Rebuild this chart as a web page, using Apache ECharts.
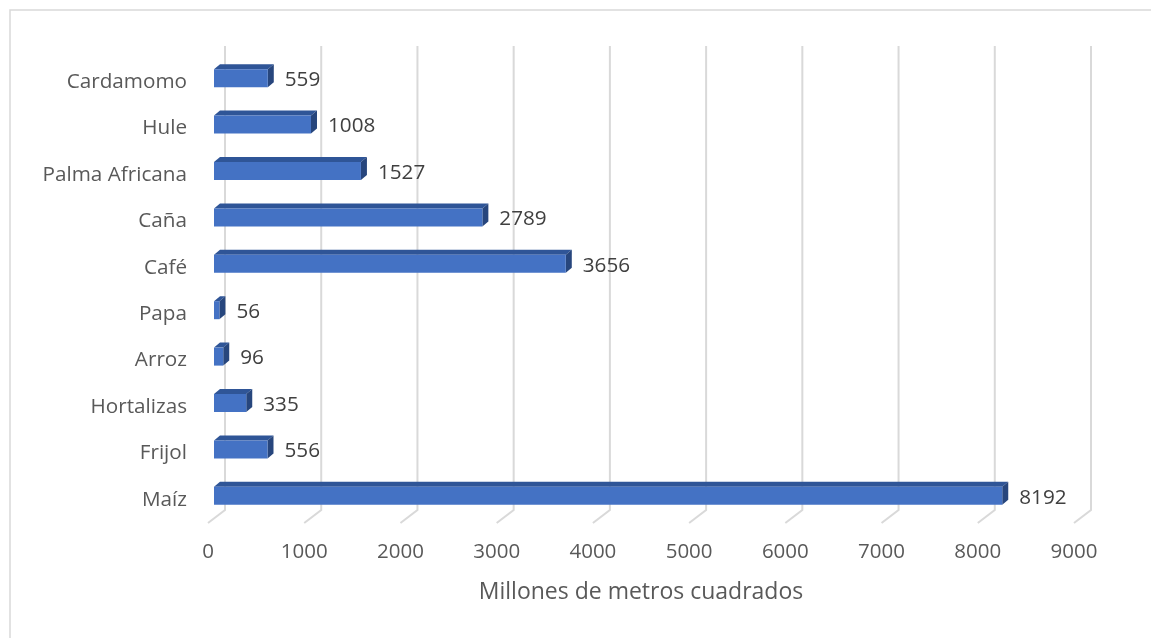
<!DOCTYPE html>
<html>
<head>
<meta charset="utf-8">
<style>
  html, body { margin: 0; padding: 0; background: #fff; }
  #chart { width: 1151px; height: 638px; }
</style>
<script src="https://cdn.jsdelivr.net/npm/echarts@6/dist/echarts.min.js"></script>
</head>
<body>
<div id="chart"></div>
<script>
// Cultivos (de abajo hacia arriba en el eje vertical)
const categories = ['Maíz', 'Frijol', 'Hortalizas', 'Arroz', 'Papa', 'Café', 'Caña', 'Palma Africana', 'Hule', 'Cardamomo'];
// Superficie en millones de metros cuadrados
const values = [8192, 556, 335, 96, 56, 3656, 2789, 1527, 1008, 559];
// Marcas del eje horizontal
const ticks = [0, 1000, 2000, 3000, 4000, 5000, 6000, 7000, 8000, 9000];

const FONT = '"Open Sans", "Noto Sans", sans-serif';
const DEPTH_X = 6, DEPTH_Y = 5;   // bar side/top depth
const BACK_X = 11, BACK_Y = 9;    // back wall offset from bar plane

const chart = echarts.init(document.getElementById('chart'));

chart.setOption({
  animation: false,
  backgroundColor: '#fff',
  graphic: [{
    type: 'rect',
    shape: { x: 10, y: 10, width: 1160, height: 650 },
    style: { fill: 'none', stroke: '#d9d9d9', lineWidth: 1.5 },
    silent: true
  }],
  grid: [
    { left: 214, top: 55, width: 866, height: 464 },   // bar plane
    { left: 208, top: 55, width: 866, height: 468 },   // floor front edge (value labels)
    { left: 214, top: 59, width: 866, height: 464 }    // category labels
  ],
  xAxis: [
    { gridIndex: 0, type: 'value', min: 0, max: 9000, interval: 1000, show: false },
    {
      gridIndex: 1, type: 'value', min: 0, max: 9000, interval: 1000,
      axisLine: { show: false }, axisTick: { show: false }, splitLine: { show: false },
      axisLabel: {
        color: '#595959', fontFamily: FONT, fontSize: 20.5, margin: 29, verticalAlign: 'middle',
        formatter: v => String(v)
      },
      name: 'Millones de metros cuadrados', nameLocation: 'middle', nameGap: 69,
      nameTextStyle: { color: '#595959', fontFamily: FONT, fontSize: 23, verticalAlign: 'middle' }
    },
    { gridIndex: 2, type: 'value', min: 0, max: 9000, interval: 1000, show: false }
  ],
  yAxis: [
    { gridIndex: 0, type: 'category', data: categories, show: false },
    { gridIndex: 1, type: 'value', show: false },
    {
      gridIndex: 2, type: 'category', data: categories,
      axisLine: { show: false }, axisTick: { show: false }, splitLine: { show: false },
      axisLabel: { color: '#595959', fontFamily: FONT, fontSize: 20.7, margin: 27 }
    }
  ],
  series: [
    {
      // back-wall gridlines with the perspective floor segment
      type: 'custom',
      xAxisIndex: 0, yAxisIndex: 0,
      data: ticks.map(t => [t, 0]),
      silent: true,
      z: 1,
      renderItem: function (params, api) {
        const cs = params.coordSys;
        const x = api.coord([api.value(0), 0])[0];
        const top = cs.y - BACK_Y;
        const bottom = cs.y + cs.height - BACK_Y;
        return {
          type: 'polyline',
          shape: { points: [[x + BACK_X, top], [x + BACK_X, bottom], [x - 6, bottom + 13]] },
          style: { stroke: '#d9d9d9', lineWidth: 2, fill: 'none' }
        };
      }
    },
    {
      type: 'custom',
      xAxisIndex: 0, yAxisIndex: 0,
      data: values.map((v, i) => [v, i]),
      z: 3,
      renderItem: function (params, api) {
        const v = api.value(0);
        const start = api.coord([0, api.value(1)]);
        const end = api.coord([v, api.value(1)]);
        const h = 18;
        const x0 = start[0], x1 = end[0];
        const y0 = start[1] - h / 2, y1 = y0 + h;
        return {
          type: 'group',
          children: [
            {
              type: 'polygon',
              shape: { points: [[x0, y0], [x0 + DEPTH_X, y0 - DEPTH_Y], [x1 + DEPTH_X, y0 - DEPTH_Y], [x1, y0]] },
              style: { fill: '#2f5597' }
            },
            {
              type: 'polygon',
              shape: { points: [[x1, y0], [x1 + DEPTH_X, y0 - DEPTH_Y], [x1 + DEPTH_X, y1 - DEPTH_Y], [x1, y1]] },
              style: { fill: '#27467d' }
            },
            {
              type: 'rect',
              shape: { x: x0, y: y0, width: x1 - x0, height: h },
              style: { fill: '#4472c4' }
            },
            {
              type: 'text',
              style: {
                text: String(v), x: x1 + DEPTH_X + 11, y: start[1] + 2,
                align: 'left', verticalAlign: 'middle',
                fill: '#404040', font: '20.7px ' + FONT
              }
            }
          ]
        };
      }
    }
  ]
});
</script>
</body>
</html>
